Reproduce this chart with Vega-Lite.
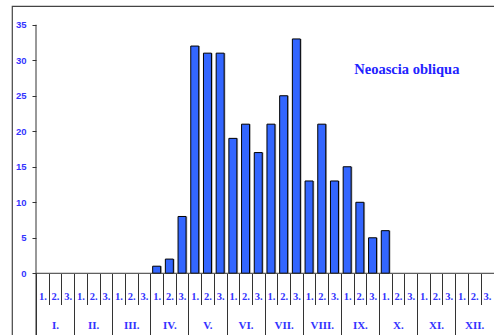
{
  "$schema": "https://vega.github.io/schema/vega-lite/v6.json",
  "autosize": "none",
  "padding": {"left": 12, "top": 6, "right": 0, "bottom": 0},
  "width": 483,
  "height": 330,
  "background": "white",
  "config": {"view": {"stroke": "#444444", "strokeWidth": 1.2}},
  "data": {"values": [
    {"i": 0, "n": 0}, {"i": 1, "n": 0}, {"i": 2, "n": 0},
    {"i": 3, "n": 0}, {"i": 4, "n": 0}, {"i": 5, "n": 0},
    {"i": 6, "n": 0}, {"i": 7, "n": 0}, {"i": 8, "n": 0},
    {"i": 9, "n": 1}, {"i": 10, "n": 2}, {"i": 11, "n": 8},
    {"i": 12, "n": 32}, {"i": 13, "n": 31}, {"i": 14, "n": 31},
    {"i": 15, "n": 19}, {"i": 16, "n": 21}, {"i": 17, "n": 17},
    {"i": 18, "n": 21}, {"i": 19, "n": 25}, {"i": 20, "n": 33},
    {"i": 21, "n": 13}, {"i": 22, "n": 21}, {"i": 23, "n": 13},
    {"i": 24, "n": 15}, {"i": 25, "n": 10}, {"i": 26, "n": 5},
    {"i": 27, "n": 6}, {"i": 28, "n": 0}, {"i": 29, "n": 0},
    {"i": 30, "n": 0}, {"i": 31, "n": 0}, {"i": 32, "n": 0},
    {"i": 33, "n": 0}, {"i": 34, "n": 0}, {"i": 35, "n": 0}
  ]},
  "resolve": {"axis": {"x": "independent", "y": "independent"}},
  "layer": [
    {
      "transform": [{"filter": "datum.n > 0"}],
      "mark": {"type": "bar", "width": 8, "xOffset": 7.6, "color": "#999999", "opacity": 0.8},
      "encoding": {
        "x": {"field": "i", "type": "quantitative", "axis": null,
              "scale": {"domain": [-1.89, 36.14], "nice": false, "zero": false, "padding": 0}},
        "y": {"field": "n", "type": "quantitative", "axis": null,
              "scale": {"domain": [-8.83, 37.64], "nice": false, "zero": false, "padding": 0}}
      }
    },
    {
      "mark": {"type": "bar", "width": 8, "xOffset": 6.35, "fill": "#3366ff", "stroke": "#000000", "strokeWidth": 1},
      "encoding": {
        "x": {"field": "i", "type": "quantitative",
              "scale": {"domain": [-1.89, 36.14], "nice": false, "zero": false, "padding": 0},
              "axis": {"title": null, "orient": "bottom", "offset": -62.5,
                       "values": [0,1,2,3,4,5,6,7,8,9,10,11,12,13,14,15,16,17,18,19,20,21,22,23,24,25,26,27,28,29,30,31,32,33,34,35],
                       "labelExpr": "(datum.value % 3 + 1) + '.'",
                       "domain": false, "tickSize": 31, "tickColor": "#333333", "tickWidth": 1,
                       "labelOffset": 6.35, "labelPadding": -8.5, "labelBaseline": "middle",
                       "labelOverlap": false, "labelFlush": false, "labelBound": false,
                       "labelFont": "Liberation Serif", "labelFontWeight": "bold", "labelFontSize": 10.5,
                       "labelColor": "#3333ff"}},
        "y": {"field": "n", "type": "quantitative",
              "scale": {"domain": [-8.83, 37.64], "nice": false, "zero": false, "padding": 0},
              "axis": {"title": null, "orient": "left", "offset": -24,
                       "values": [0,5,10,15,20,25,30,35], "domain": false, "grid": false,
                       "tickSize": 4, "tickColor": "#333333", "labelPadding": 6,
                       "labelFont": "Liberation Sans", "labelFontWeight": "bold", "labelFontSize": 9.5,
                       "labelColor": "#3333ff"}},
        "opacity": {"condition": {"test": "datum.n > 0", "value": 1}, "value": 0}
      }
    },
    {
      "data": {"values": [{"lab": "x"}]},
      "mark": {"type": "rule", "color": "#333333", "strokeWidth": 1},
      "encoding": {
        "x": {"datum": 0, "type": "quantitative",
              "axis": {"title": null, "orient": "bottom", "offset": -62.5,
                       "values": [0,3,6,9,12,15,18,21,24,27,30,33],
                       "labelExpr": "['I.','II.','III.','IV.','V.','VI.','VII.','VIII.','IX.','X.','XI.','XII.'][round(datum.value / 3)]",
                       "domain": false, "tickSize": 63, "tickColor": "#333333", "tickWidth": 1,
                       "labelOffset": 19.05, "labelPadding": -11, "labelBaseline": "middle",
                       "labelOverlap": false, "labelFlush": false, "labelBound": false,
                       "labelFont": "Liberation Serif", "labelFontWeight": "bold", "labelFontSize": 11,
                       "labelColor": "#3333ff"}},
        "x2": {"datum": 36.14},
        "y": {"datum": 0, "type": "quantitative", "axis": null}
      }
    },
    {
      "data": {"values": [{"lab": "y"}]},
      "mark": {"type": "rule", "color": "#333333", "strokeWidth": 1},
      "encoding": {
        "x": {"datum": 0, "type": "quantitative", "axis": null},
        "y": {"datum": -8.83, "type": "quantitative", "axis": null},
        "y2": {"datum": 35}
      }
    },
    {
      "data": {"values": [{"title": "Neoascia obliqua"}]},
      "mark": {"type": "text", "font": "Liberation Serif", "fontWeight": "bold",
               "fontSize": 14.5, "color": "#2222ff", "align": "center", "baseline": "alphabetic"},
      "encoding": {
        "text": {"field": "title"},
        "x": {"datum": 29.2, "type": "quantitative", "axis": null},
        "y": {"datum": 28.05, "type": "quantitative", "axis": null}
      }
    }
  ]
}
